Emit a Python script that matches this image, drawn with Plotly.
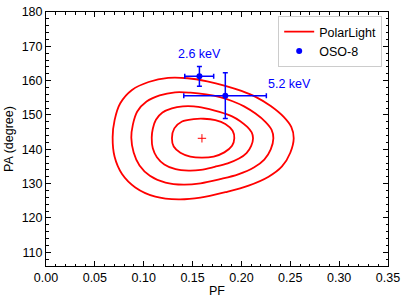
import plotly.graph_objects as go

# PolarLight confidence contours (PF, PA)
c1_pf = [0.0682, 0.0702, 0.0760, 0.0880, 0.1050, 0.1250, 0.1450, 0.1650, 0.1835, 0.2000, 0.2150, 0.2300, 0.2430,
         0.2510, 0.2535, 0.2500, 0.2415, 0.2278, 0.2073, 0.1835, 0.1580, 0.1357, 0.1119, 0.0914, 0.0778, 0.0702]
c1_pa = [143.5, 148.5, 153.4, 157.3, 159.6, 160.8, 160.7, 159.8, 158.5, 157.0, 155.2, 152.6, 149.5,
         146.5, 143.2, 139.0, 135.0, 132.0, 129.4, 127.5, 125.9, 125.4, 126.2, 128.9, 132.8, 137.8]
c2_pf = [0.0873, 0.0889, 0.0934, 0.1029, 0.1163, 0.1321, 0.1479, 0.1637, 0.1781, 0.1910, 0.2027, 0.2144, 0.2245,
         0.2308, 0.2327, 0.2300, 0.2234, 0.2127, 0.1967, 0.1781, 0.1582, 0.1408, 0.1223, 0.1063, 0.0957, 0.0897]
c2_pa = [143.4, 147.2, 151.0, 153.9, 155.7, 156.6, 156.5, 156.0, 155.2, 154.0, 152.5, 150.4, 148.0,
         145.7, 143.2, 140.0, 137.0, 134.7, 132.7, 131.3, 130.1, 129.7, 130.3, 132.3, 135.3, 139.1]
c3_pf = [0.1082, 0.1093, 0.1125, 0.1192, 0.1288, 0.1400, 0.1512, 0.1624, 0.1727, 0.1820, 0.1904, 0.1988, 0.2060,
         0.2105, 0.2119, 0.2100, 0.2052, 0.1975, 0.1860, 0.1727, 0.1584, 0.1460, 0.1326, 0.1211, 0.1135, 0.1093]
c3_pa = [143.4, 146.0, 148.6, 150.7, 151.9, 152.5, 152.5, 152.0, 151.3, 150.5, 149.6, 148.2, 146.5,
         144.9, 143.2, 141.0, 138.9, 137.3, 135.9, 134.9, 134.0, 133.8, 134.2, 135.6, 137.7, 140.3]
c4_pf = [0.1289, 0.1313, 0.1392, 0.1511, 0.1614, 0.1733, 0.1835, 0.1910, 0.1927,
         0.1904, 0.1825, 0.1716, 0.1596, 0.1477, 0.1375, 0.1307]
c4_pa = [143.2, 146.1, 148.1, 148.8, 148.9, 148.5, 147.4, 145.4, 143.2,
         141.0, 139.1, 137.9, 137.6, 137.9, 139.0, 140.8]
best_pf = [0.1596]
best_pa = [143.2]

# OSO-8 measurements
oso_pf = [0.157, 0.1835]
oso_pa = [161.3, 155.6]
oso_pf_lo = [0.015, 0.0425]
oso_pf_hi = [0.0146, 0.042]
oso_pa_lo = [2.9, 6.6]
oso_pa_hi = [2.8, 6.7]
oso_labels = ["2.6 keV", "5.2 keV"]
label_pf = [0.157, 0.2251]
label_pa = [167.7, 159.0]

RED = "#ff0000"
BLUE = "#0000ff"
FONT = "Liberation Sans, Arial, Helvetica, sans-serif"

fig = go.Figure()
contours = [(c1_pf, c1_pa), (c2_pf, c2_pa), (c3_pf, c3_pa), (c4_pf, c4_pa)]
for i, (px, py) in enumerate(contours):
    fig.add_trace(go.Scatter(
        x=px + [px[0]], y=py + [py[0]], mode="lines",
        line=dict(color=RED, width=1.8, shape="spline", smoothing=1.0),
        name="PolarLight", showlegend=(i == 0)))
fig.add_trace(go.Scatter(x=best_pf, y=best_pa, mode="markers",
                         marker=dict(symbol="cross-thin", size=6, line=dict(color=RED, width=1)),
                         showlegend=False))
fig.add_trace(go.Scatter(
    x=oso_pf, y=oso_pa, mode="markers", name="OSO-8",
    marker=dict(color=BLUE, size=6, symbol="circle"),
    error_x=dict(type="data", array=oso_pf_hi, arrayminus=oso_pf_lo, color=BLUE, thickness=1.5, width=2.5),
    error_y=dict(type="data", array=oso_pa_hi, arrayminus=oso_pa_lo, color=BLUE, thickness=1.5, width=2.5)))

fig.add_annotation(x=label_pf[0], y=label_pa[0], text=oso_labels[0], showarrow=False,
                   font=dict(color=BLUE, size=12.5, family=FONT), xanchor="center", yanchor="middle")
fig.add_annotation(x=label_pf[1], y=label_pa[1], text=oso_labels[1], showarrow=False,
                   font=dict(color=BLUE, size=12.5, family=FONT), xanchor="left", yanchor="middle")

axis_common = dict(showline=True, linecolor="black", linewidth=1, mirror="allticks",
                   ticks="inside", ticklen=5, tickwidth=1, tickcolor="black",
                   showgrid=False, zeroline=False, automargin=False,
                   tickfont=dict(size=12.5, color="black", family=FONT))
fig.update_xaxes(range=[0, 0.35], dtick=0.05, tickformat=".2f",
                 minor=dict(ticks="inside", ticklen=2.5, dtick=0.01, tickcolor="black", showgrid=False),
                 title=dict(text="PF", font=dict(size=12.5, family=FONT, color="black"), standoff=2),
                 **axis_common)
fig.update_yaxes(range=[106, 180], dtick=10,
                 minor=dict(ticks="inside", ticklen=2.5, dtick=2, tickcolor="black", showgrid=False),
                 title=dict(text="PA (degree)", font=dict(size=12.5, family=FONT, color="black"), standoff=5),
                 **axis_common)

fig.update_layout(
    width=407, height=303,
    margin=dict(l=46, r=19, t=12, b=37),
    plot_bgcolor="white", paper_bgcolor="white",
    font=dict(family=FONT, size=12.5, color="black"),
    legend=dict(x=0.983, y=0.984, xanchor="right", yanchor="top",
                bordercolor="#cccccc", borderwidth=1, bgcolor="white",
                font=dict(size=12.5, family=FONT), itemwidth=30, tracegroupgap=0),
)

fig.write_html("out.html", config={"displayModeBar": False},
               post_script="document.body.style.margin='0px';document.body.style.overflow='hidden';")
